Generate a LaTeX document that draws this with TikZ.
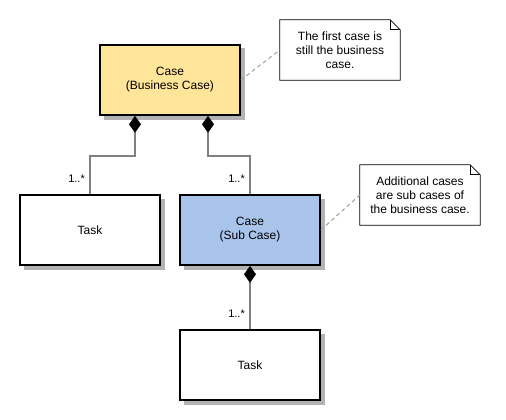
\documentclass[tikz,border=0pt]{standalone}
\usepackage{fontspec}
\setmainfont{Liberation Sans}
\usetikzlibrary{arrows.meta,calc}
\definecolor{caseyellow}{HTML}{FFE599}
\definecolor{caseblue}{HTML}{A9C4EB}
\definecolor{shadowgray}{HTML}{B3B3B3}
\definecolor{conngray}{HTML}{808080}
\definecolor{notegray}{HTML}{A0A0A0}
\tikzset{
  box/.style={draw=black, line width=1.6pt, minimum width=140pt, minimum height=70pt,
    inner sep=0pt, align=center, font=\fontsize{12}{14}\selectfont},
  shadowbox/.style={fill=shadowgray, draw=none, minimum width=141pt, minimum height=71pt, inner sep=0pt},
  notebox/.style={minimum width=120pt, minimum height=60pt, inner sep=0pt, align=center,
    font=\fontsize{12}{14}\selectfont},
  conn/.style={draw=conngray, line width=1.5pt},
  comp/.style={conn, {Diamond[length=17pt,width=12pt,color=black]}-},
  dashconn/.style={draw=notegray, line width=1pt, dash pattern=on 4pt off 3pt},
  mult/.style={font=\fontsize{11}{13}\selectfont, inner sep=0pt, anchor=east},
}
\begin{document}
\begin{tikzpicture}[x=1pt,y=-1pt]
\useasboundingbox (0,0) rectangle (506,420);
% shadows
\node[shadowbox] at (174,84) {};
\node[shadowbox] at (94,234) {};
\node[shadowbox] at (254,234) {};
\node[shadowbox] at (254,369) {};
% boxes
\node[box, fill=caseyellow] (c1) at (170,80) {Case\\(Business Case)};
\node[box, fill=white] (t1) at (90,230) {Task};
\node[box, fill=caseblue] (sc) at (250,230) {Case\\(Sub Case)};
\node[box, fill=white] (t2) at (250,365) {Task};
% notes
\node[notebox] (n1) at (340,50) {};
\node[notebox] (n2) at (420,195) {};
\foreach \n in {n1,n2}{
  \draw[black, line width=0.8pt, fill=white] (\n.north west) -- ([xshift=-10pt]\n.north east)
    -- ([yshift=-10pt]\n.north east) -- (\n.south east) -- (\n.south west) -- cycle;
  \draw[black, line width=0.8pt] ([xshift=-10pt]\n.north east) -- ([xshift=-10pt,yshift=-10pt]\n.north east)
    -- ([yshift=-10pt]\n.north east);
}
\node[notebox] (n1t) at (n1) {The first case is\\still the business\\case.};
\node[notebox] (n2t) at (n2) {Additional cases\\are sub cases of\\the business case.};
% composition connectors
\draw[comp] ([xshift=-35pt]c1.south) -- ++(0,40) -| (t1.north);
\draw[comp] ([xshift=38pt]c1.south) -- ++(0,40) -| (sc.north);
\draw[comp] (sc.south) -- (t2.north);
% multiplicities
\node[mult] (m1) at ([xshift=-5pt,yshift=15pt]t1.north) {1..*};
\node[mult] (m2) at ([xshift=-5pt,yshift=15pt]sc.north) {1..*};
\node[mult] (m3) at ([xshift=-5pt,yshift=15pt]t2.north) {1..*};
% note links
\draw[dashconn] (c1.east) -- (n1.west);
\draw[dashconn] (sc.east) -- (n2.west);
\end{tikzpicture}
\end{document}
